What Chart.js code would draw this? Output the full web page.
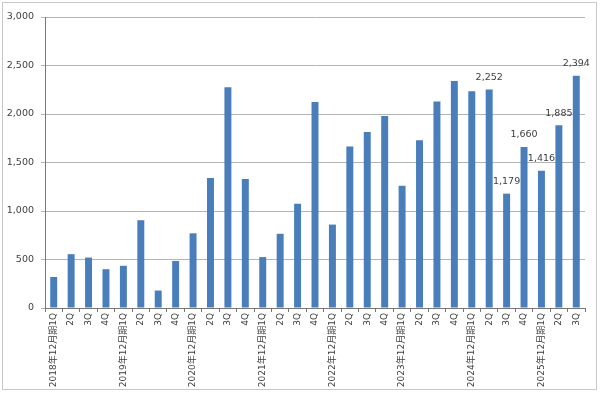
<!DOCTYPE html>
<html lang="ja">
<head>
    <meta charset="UTF-8">
    <title>四半期推移</title>
    <script src="https://cdn.jsdelivr.net/npm/chart.js"></script>
    <style>
        body {
            margin: 0;
            padding: 0;
            background: #fff;
        }
        .wrap {
            position: relative;
            width: 600px;
            height: 393px;
        }
        /* 外枠 */
        .frame {
            position: absolute;
            left: 2px;
            top: 2px;
            width: 595px;
            height: 388px;
            border: 1px solid #c8c8c8;
            box-sizing: border-box;
            pointer-events: none;
        }
    </style>
</head>
<body>
<div class="wrap">
    <canvas id="chart" width="600" height="393"></canvas>
    <div class="frame"></div>
</div>
<script>
    // 四半期ラベル
    const quarters = [
        "2018年12月期1Q", "2Q", "3Q", "4Q",
        "2019年12月期1Q", "2Q", "3Q", "4Q",
        "2020年12月期1Q", "2Q", "3Q", "4Q",
        "2021年12月期1Q", "2Q", "3Q", "4Q",
        "2022年12月期1Q", "2Q", "3Q", "4Q",
        "2023年12月期1Q", "2Q", "3Q", "4Q",
        "2024年12月期1Q", "2Q", "3Q", "4Q",
        "2025年12月期1Q", "2Q", "3Q"
    ];

    // 値
    const values = [
        320, 555, 520, 400,
        435, 905, 180, 485,
        770, 1340, 2275, 1330,
        525, 765, 1075, 2125,
        860, 1665, 1815, 1980,
        1260, 1730, 2130, 2340,
        2235, 2252, 1179, 1660,
        1416, 1885, 2394
    ];

    // 数値ラベルを表示する棒
    const labeledBars = [25, 26, 27, 28, 29, 30];

    const yTicks = [0, 500, 1000, 1500, 2000, 2500, 3000];

    const fontFamily = '"DejaVu Sans", "Noto Sans CJK JP", sans-serif';

    const valueLabels = {
        id: 'valueLabels',
        afterDatasetsDraw(chart) {
            const ctx = chart.ctx;
            const meta = chart.getDatasetMeta(0);
            ctx.save();
            ctx.font = '9.5px ' + fontFamily;
            ctx.fillStyle = '#404040';
            ctx.textAlign = 'center';
            ctx.textBaseline = 'middle';
            labeledBars.forEach(i => {
                const bar = meta.data[i];
                ctx.fillText(values[i].toLocaleString('en-US'), bar.x, bar.y - 12);
            });
            ctx.restore();
        }
    };

    new Chart(document.getElementById('chart'), {
        type: 'bar',
        data: {
            labels: quarters,
            datasets: [{
                data: values,
                backgroundColor: '#4a7ebb',
                barPercentage: 0.4,
                categoryPercentage: 1.0
            }]
        },
        options: {
            responsive: false,
            animation: false,
            layout: {
                padding: { left: 0, right: 15, top: 17, bottom: 0 }
            },
            plugins: {
                legend: { display: false },
                tooltip: { enabled: false }
            },
            scales: {
                x: {
                    afterFit(scale) { scale.height = 85; },
                    grid: {
                        drawOnChartArea: false,
                        drawTicks: true,
                        tickLength: 4,
                        color: '#777'
                    },
                    border: { color: '#777', width: 1 },
                    ticks: {
                        autoSkip: false,
                        maxRotation: 90,
                        minRotation: 90,
                        padding: 1,
                        color: '#404040',
                        font: { family: fontFamily, size: 9 }
                    }
                },
                y: {
                    min: 0,
                    max: 3000,
                    afterFit(scale) { scale.width = 45; },
                    afterBuildTicks(scale) {
                        scale.ticks = yTicks.map(v => ({ value: v }));
                    },
                    grid: {
                        color: '#b4b4b4',
                        tickLength: 4
                    },
                    border: { color: '#777', width: 1 },
                    ticks: {
                        padding: 7,
                        color: '#404040',
                        font: { family: fontFamily, size: 9.5 },
                        callback: v => v.toLocaleString('en-US')
                    }
                }
            }
        },
        plugins: [valueLabels]
    });
</script>
</body>
</html>
